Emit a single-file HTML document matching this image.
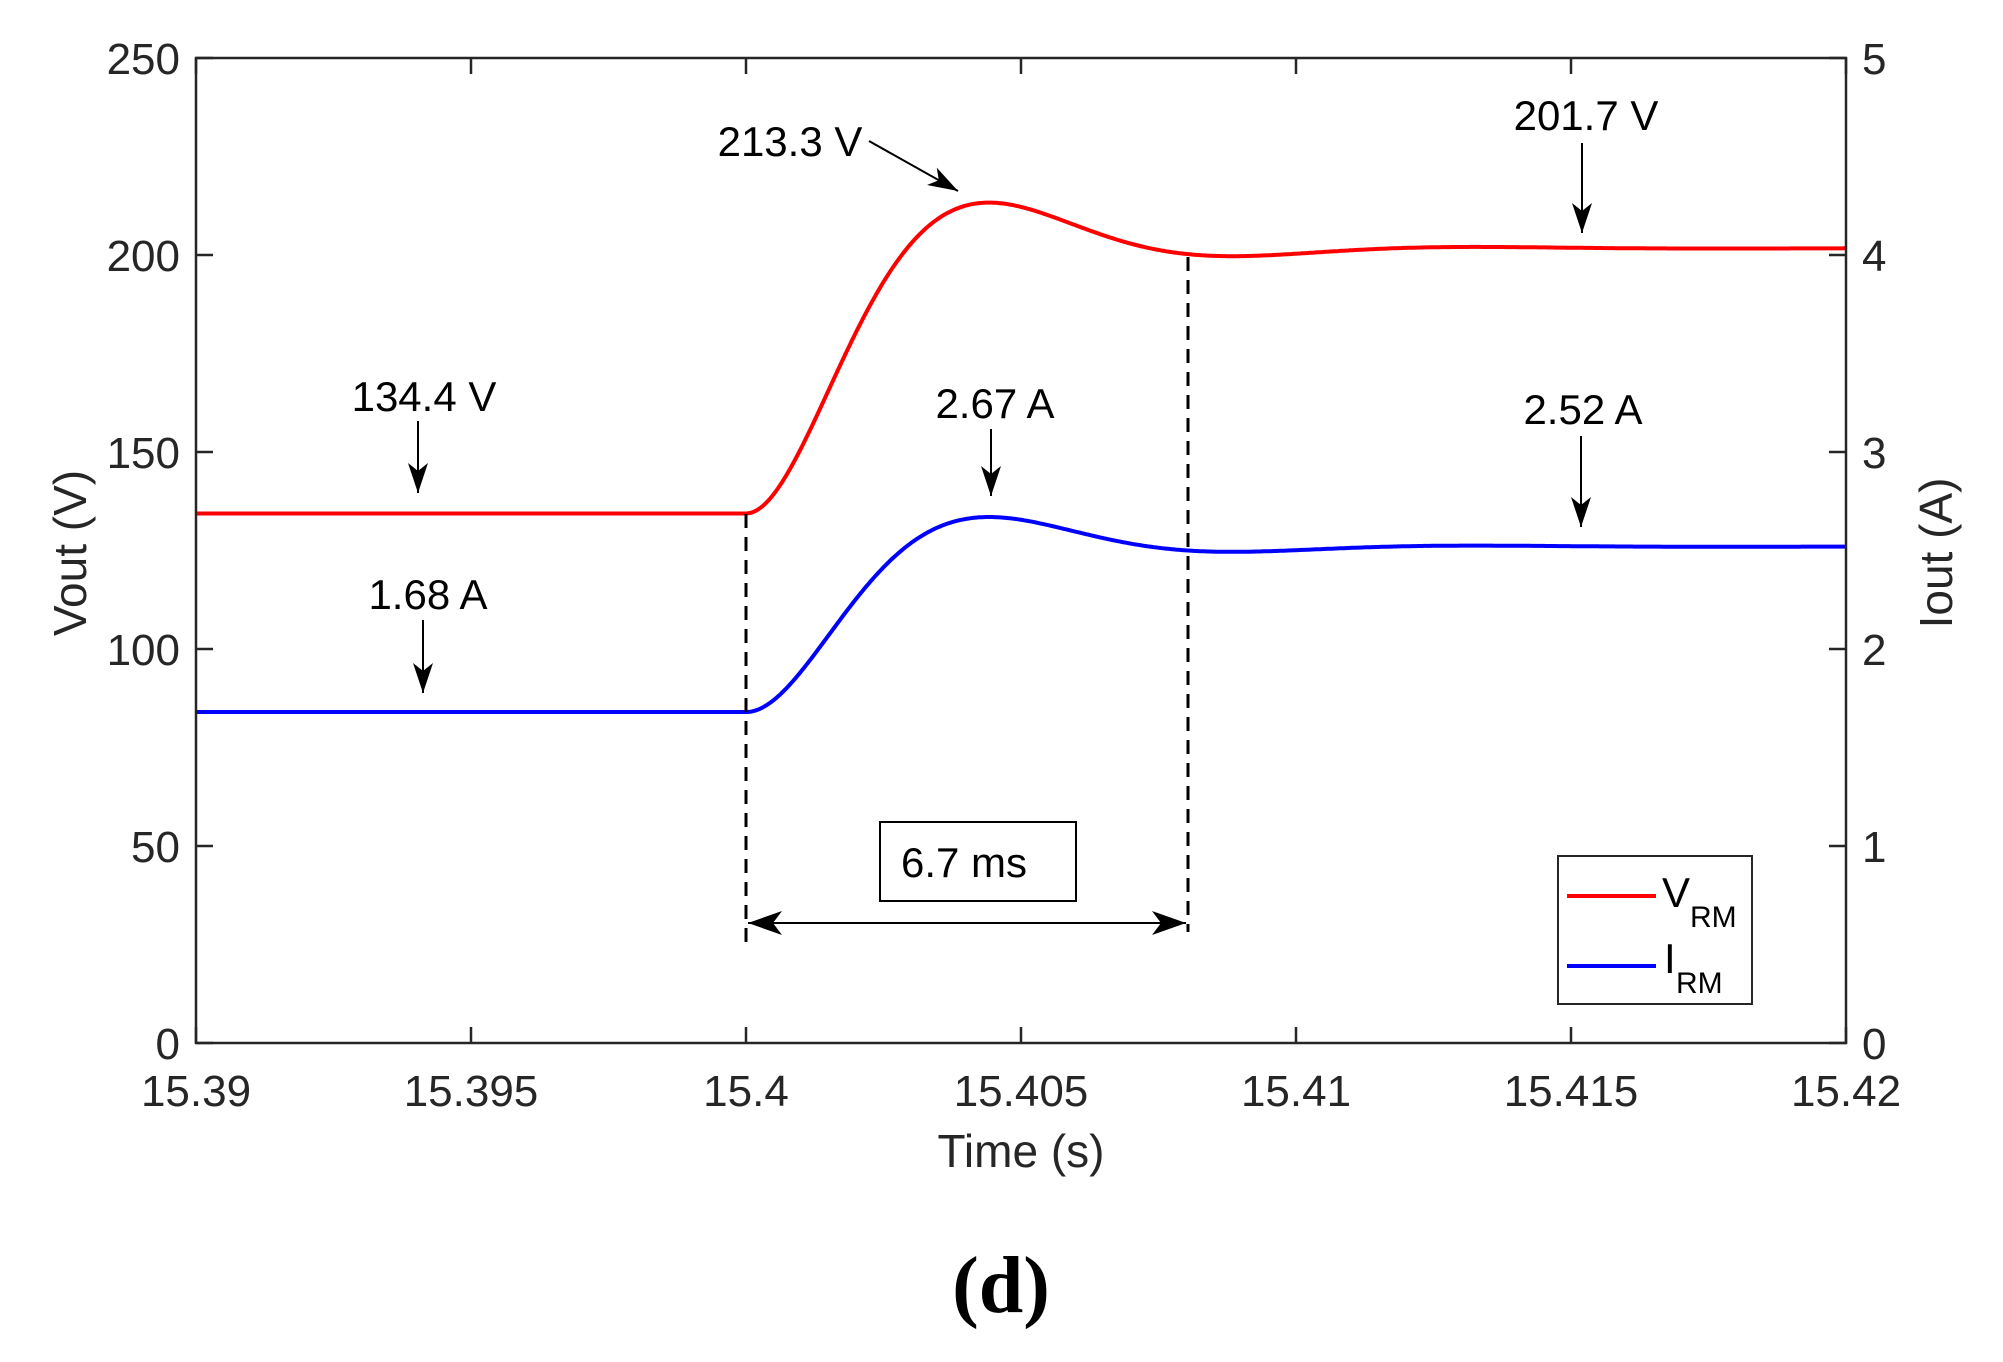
<!DOCTYPE html>
<html><head><meta charset="utf-8"><style>
html,body{margin:0;padding:0;background:#fff;}
svg{display:block;}
text{font-family:"Liberation Sans",Arial,sans-serif;}
</style></head><body>
<svg id="s" width="2003" height="1362" viewBox="0 0 2003 1362" xmlns="http://www.w3.org/2000/svg">
<defs>
<marker id="ah" viewBox="0 0 30 20" refX="30" refY="10" markerWidth="30" markerHeight="20" markerUnits="userSpaceOnUse" orient="auto"><path d="M0,0 L30,10 L0,20 L8,10 Z" fill="#000"/></marker>
</defs>
<rect width="2003" height="1362" fill="#fff"/>
<path id="vp" fill="none" stroke="#ff0000" stroke-width="4"/>
<path id="ip" fill="none" stroke="#0000ff" stroke-width="4"/>
<line x1="746" y1="514" x2="746" y2="942" stroke="#000" stroke-width="3" stroke-dasharray="14,9"/>
<line x1="1188" y1="257" x2="1188" y2="932" stroke="#000" stroke-width="3" stroke-dasharray="14,9"/>
<line x1="748" y1="923" x2="1186" y2="923" stroke="#000" stroke-width="2"/>
<path d="M748,923 L782,911 L773,923 L782,935 Z" fill="#000"/>
<path d="M1186,923 L1152,911 L1161,923 L1152,935 Z" fill="#000"/>
<rect x="880" y="822" width="196" height="79" fill="#fff" stroke="#000" stroke-width="2"/>
<text x="964" y="877" font-size="42" text-anchor="middle">6.7 ms</text>
<g stroke="#262626" stroke-width="2.5" fill="none">
<rect x="196" y="58" width="1650" height="985"/>
</g>
<g id="ticks" stroke="#262626" stroke-width="2.5"></g>
<g id="labs" font-size="44" fill="#262626"></g>
<text x="1021" y="1167" font-size="46" text-anchor="middle" fill="#262626">Time (s)</text>
<text transform="translate(86,553) rotate(-90)" font-size="46" text-anchor="middle" fill="#262626">Vout (V)</text>
<text transform="translate(1952,553) rotate(-90)" font-size="46" text-anchor="middle" fill="#262626">Iout (A)</text>
<g font-size="42" fill="#000">
<text x="424" y="411" text-anchor="middle">134.4 V</text>
<text x="428" y="609" text-anchor="middle">1.68 A</text>
<text x="790" y="156" text-anchor="middle">213.3 V</text>
<text x="1586" y="130" text-anchor="middle">201.7 V</text>
<text x="995" y="418" text-anchor="middle">2.67 A</text>
<text x="1583" y="424" text-anchor="middle">2.52 A</text>
</g>
<g stroke="#000" stroke-width="2" marker-end="url(#ah)">
<line x1="418" y1="421" x2="418" y2="493"/>
<line x1="423" y1="620" x2="423" y2="693"/>
<line x1="869" y1="141" x2="958" y2="191"/>
<line x1="1582" y1="143" x2="1582" y2="233"/>
<line x1="991" y1="429" x2="991" y2="496"/>
<line x1="1581" y1="436" x2="1581" y2="527"/>
</g>
<rect x="1558" y="856" width="194" height="148" fill="#fff" stroke="#262626" stroke-width="2"/>
<line x1="1567" y1="896" x2="1656" y2="896" stroke="#ff0000" stroke-width="4"/>
<line x1="1567" y1="966" x2="1656" y2="966" stroke="#0000ff" stroke-width="4"/>
<text x="1662" y="907" font-size="42">V</text>
<text x="1690" y="927" font-size="30">RM</text>
<text x="1664" y="973" font-size="42">I</text>
<text x="1676" y="993" font-size="30">RM</text>
<text x="1001" y="1312" font-size="80" font-weight="bold" text-anchor="middle" style="font-family:'Liberation Serif',serif">(d)</text>
</svg>
<script>
var X0=196,X1=1846,Y0=58,Y1=1043;
function px(t){return X0+(t-15.39)/0.03*(X1-X0);}
function pv(v){return Y1-v/250*(Y1-Y0);}
function pa(a){return Y1-a/5*(Y1-Y0);}
function resp(t,a0,af,os){var z=-Math.log(os)/Math.sqrt(Math.PI*Math.PI+Math.log(os)*Math.log(os));
var wd=Math.PI/0.00442,wn=wd/Math.sqrt(1-z*z);var dt=t-15.4;if(dt<=0)return a0;
var e=Math.exp(-z*wn*dt);return af-(af-a0)*e*(Math.cos(wd*dt)+z/Math.sqrt(1-z*z)*Math.sin(wd*dt));}
var dv="",di="";
for(var i=0;i<=1650;i+=2){var t=15.39+i/1650*0.03;
var v=resp(t,134.4,201.7,(213.3-201.7)/(201.7-134.4));
var a=resp(t,1.68,2.52,(2.67-2.52)/(2.52-1.68));
dv+=(i?"L":"M")+px(t).toFixed(1)+","+pv(v).toFixed(1);
di+=(i?"L":"M")+px(t).toFixed(1)+","+pa(a).toFixed(1);}
document.getElementById("vp").setAttribute("d",dv);
document.getElementById("ip").setAttribute("d",di);
var tk="",lb="";
var xl=["15.39","15.395","15.4","15.405","15.41","15.415","15.42"];
for(var k=0;k<7;k++){var x=X0+k*275;
tk+='<line x1="'+x+'" y1="'+Y1+'" x2="'+x+'" y2="'+(Y1-16)+'"/><line x1="'+x+'" y1="'+Y0+'" x2="'+x+'" y2="'+(Y0+16)+'"/>';
lb+='<text x="'+x+'" y="1106" text-anchor="middle">'+xl[k]+'</text>';}
for(var k=0;k<=5;k++){var y=Y1-k*197;
tk+='<line x1="'+X0+'" y1="'+y+'" x2="'+(X0+17)+'" y2="'+y+'"/><line x1="'+X1+'" y1="'+y+'" x2="'+(X1-17)+'" y2="'+y+'"/>';
lb+='<text x="180" y="'+(y+16)+'" text-anchor="end">'+(k*50)+'</text>';
lb+='<text x="1862" y="'+(y+16)+'">'+k+'</text>';}
document.getElementById("ticks").innerHTML=tk;
document.getElementById("labs").innerHTML=lb;
</script>
</body></html>
